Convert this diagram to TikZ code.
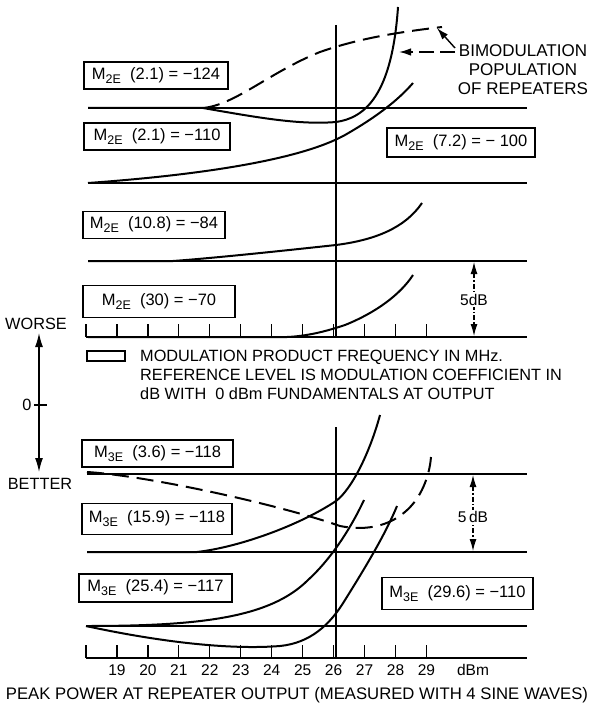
\documentclass[tikz,border=0pt]{standalone}
\usepackage{fontspec}
\setmainfont{Liberation Sans}
\usetikzlibrary{arrows.meta}
\newcommand{\mysub}[1]{\raisebox{-4pt}{\fontsize{12.5}{12.5}\selectfont #1}}
\begin{document}
\begin{tikzpicture}[x=1pt,y=-1pt,
  refline/.style={line width=1.3pt},
  curve/.style={line width=2pt},
  dcurve/.style={line width=2pt, dash pattern=on 17pt off 8pt},
  coef/.style={draw, line width=1.2pt, inner sep=0pt, font=\fontsize{16.5}{16.5}\selectfont, anchor=center},
  lbl/.style={font=\fontsize{16.3}{19}\selectfont, inner sep=0pt},
  ticklbl/.style={font=\fontsize{15.5}{15.5}\selectfont, inner sep=0pt},
  tickmark/.style={line width=1.2pt},
  dbarrow/.style={line width=1.1pt, dash pattern=on 5pt off 2pt on 1.5pt off 2pt, {Latex[length=12pt,width=7pt]}-{Latex[length=12pt,width=7pt]}},
  ptarrow/.style={line width=1.4pt, dash pattern=on 15pt off 6pt, -{Latex[length=12pt,width=7.5pt]}},
  scalearrow/.style={line width=1.4pt, {Latex[length=14pt,width=8pt]}-{Latex[length=14pt,width=8pt]}}
]
\useasboundingbox (0,0) rectangle (594,708);

% ---------- upper panel (M2E) ----------
\draw[refline] (88,108) -- (527,108);
\draw[refline] (88,183) -- (527,183);
\draw[refline] (88,261) -- (527,261);
\draw[refline] (86,337) -- (527,337);
\draw[refline] (336,25) -- (336,337);
\foreach \v in {18,...,29} \draw[tickmark] ({86+(\v-18)*30.95},337) -- ++(0,-13);

\draw[curve] (88,108) -- (203,108) .. controls (260,118) and (300,125) .. (336,122) .. controls (365,118) and (392,95) .. (398,7);
\draw[dcurve] (203,108) .. controls (235,105) and (270,72) .. (320,52) .. controls (360,38) and (400,32) .. (442,27);
\draw[curve] (88,183) .. controls (200,175) and (300,160) .. (345,135) .. controls (380,115) and (400,98) .. (413,83);
\draw[curve] (88,261) -- (173,261) .. controls (215,258) and (290,250) .. (336,245) .. controls (375,240) and (405,228) .. (422,203);
\draw[curve] (88,337) -- (287,337) .. controls (310,336) and (330,330) .. (345,325) .. controls (375,313) and (400,295) .. (413,275);

\node[coef, minimum width=144pt, minimum height=27pt] (b124) at (156,75.5) {M\mysub{2E}\ \ (2.1) = −124};
\node[coef, minimum width=146pt, minimum height=27pt] (b110) at (157,136.5) {M\mysub{2E}\ \ (2.1) = −110};
\node[coef, minimum width=148pt, minimum height=29pt] (b72) at (461,142.5) {M\mysub{2E}\ \ (7.2) = − 100};
\node[coef, minimum width=142pt, minimum height=27pt] (b108) at (154,225) {M\mysub{2E}\ \ (10.8) = −84};
\node[coef, minimum width=152pt, minimum height=32pt] (b30) at (159,301.5) {M\mysub{2E}\ \ (30) = −70};

\node[lbl, align=center, font=\fontsize{17}{19}\selectfont] (bimod) at (523,70) {BIMODULATION\\POPULATION\\OF REPEATERS};
\coordinate (bs) at (455,52);
\coordinate (bs2) at (455,48);
\coordinate (pa) at (399,52);
\coordinate (pb) at (437,28);
\draw[ptarrow] (bs) -- (pa);
\draw[ptarrow] (bs2) -- (pb);

\coordinate (d1t) at (474,262);
\coordinate (d1b) at (474,336);
\draw[dbarrow] (d1t) -- (d1b);
\node[ticklbl, fill=white, inner sep=1.5pt] (db1) at (474,300) {5dB};

% ---------- legend ----------
\node[draw, line width=1.2pt, minimum width=38pt, minimum height=10pt, inner sep=0pt] (legbox) at (106,356) {};
\node[lbl, anchor=west, align=left] (legtxt) at (140,375) {MODULATION PRODUCT FREQUENCY IN MHz.\\REFERENCE LEVEL IS MODULATION COEFFICIENT IN\\dB WITH\ \ 0 dBm FUNDAMENTALS AT OUTPUT};

% ---------- worse / better scale ----------
\node[lbl] (worse) at (36,324) {WORSE};
\node[lbl] (better) at (40,484) {BETTER};
\node[lbl] (zero) at (27,405) {0};
\coordinate (st) at (39,333);
\coordinate (sb) at (39,472);
\draw[scalearrow] (st) -- (sb);
\draw[line width=1.2pt] (34,405) -- (47,405);

% ---------- lower panel (M3E) ----------
\draw[refline] (87,474) -- (527,474);
\draw[refline] (87,552) -- (527,552);
\draw[refline] (86,626) -- (527,626);
\draw[refline] (86,658) -- (527,658);
\draw[refline] (336,427) -- (336,658);
\foreach \v in {18,...,29} \draw[tickmark] ({86+(\v-18)*30.95},658) -- ++(0,-13);

\draw[dcurve] (87,472) .. controls (150,476) and (280,505) .. (340,526) .. controls (360,530) and (390,530) .. (412,505) .. controls (425,490) and (430,470) .. (431,457);
\draw[curve] (87,552) -- (197,552) .. controls (240,547) and (300,525) .. (336,501) .. controls (352,489) and (370,452) .. (380,415);
\draw[curve] (86,626) .. controls (200,626) and (270,618) .. (308,580) .. controls (330,560) and (350,530) .. (364,500);
\draw[curve] (86,626) .. controls (160,642) and (230,650) .. (280,646) .. controls (310,643) and (330,625) .. (345,600) .. controls (365,568) and (385,535) .. (397,506);

\node[coef, minimum width=151pt, minimum height=27pt] (b36) at (157.5,453.5) {M\mysub{3E}\ \ (3.6) = −118};
\node[coef, minimum width=150pt, minimum height=31pt] (b159) at (157,519) {M\mysub{3E}\ \ (15.9) = −118};
\node[coef, minimum width=153pt, minimum height=28pt] (b254) at (155.5,588) {M\mysub{3E}\ \ (25.4) = −117};
\node[coef, minimum width=151pt, minimum height=32pt] (b296) at (457.5,593.5) {M\mysub{3E}\ \ (29.6) = −110};

\coordinate (d2t) at (473,475);
\coordinate (d2b) at (473,551);
\draw[dbarrow] (d2t) -- (d2b);
\node[ticklbl, fill=white, inner sep=1.5pt] (db2) at (473,517) {5\,dB};

% ---------- axis labels ----------
\foreach \v in {19,...,29} \node[ticklbl] at ({86+(\v-18)*30.95},670) {\v};
\node[ticklbl] (dbm) at (473,670) {dBm};
\node[lbl, font=\fontsize{16.7}{19}\selectfont] (xlabel) at (297,695) {PEAK POWER AT REPEATER OUTPUT (MEASURED WITH 4 SINE WAVES)};
\end{tikzpicture}
\end{document}
